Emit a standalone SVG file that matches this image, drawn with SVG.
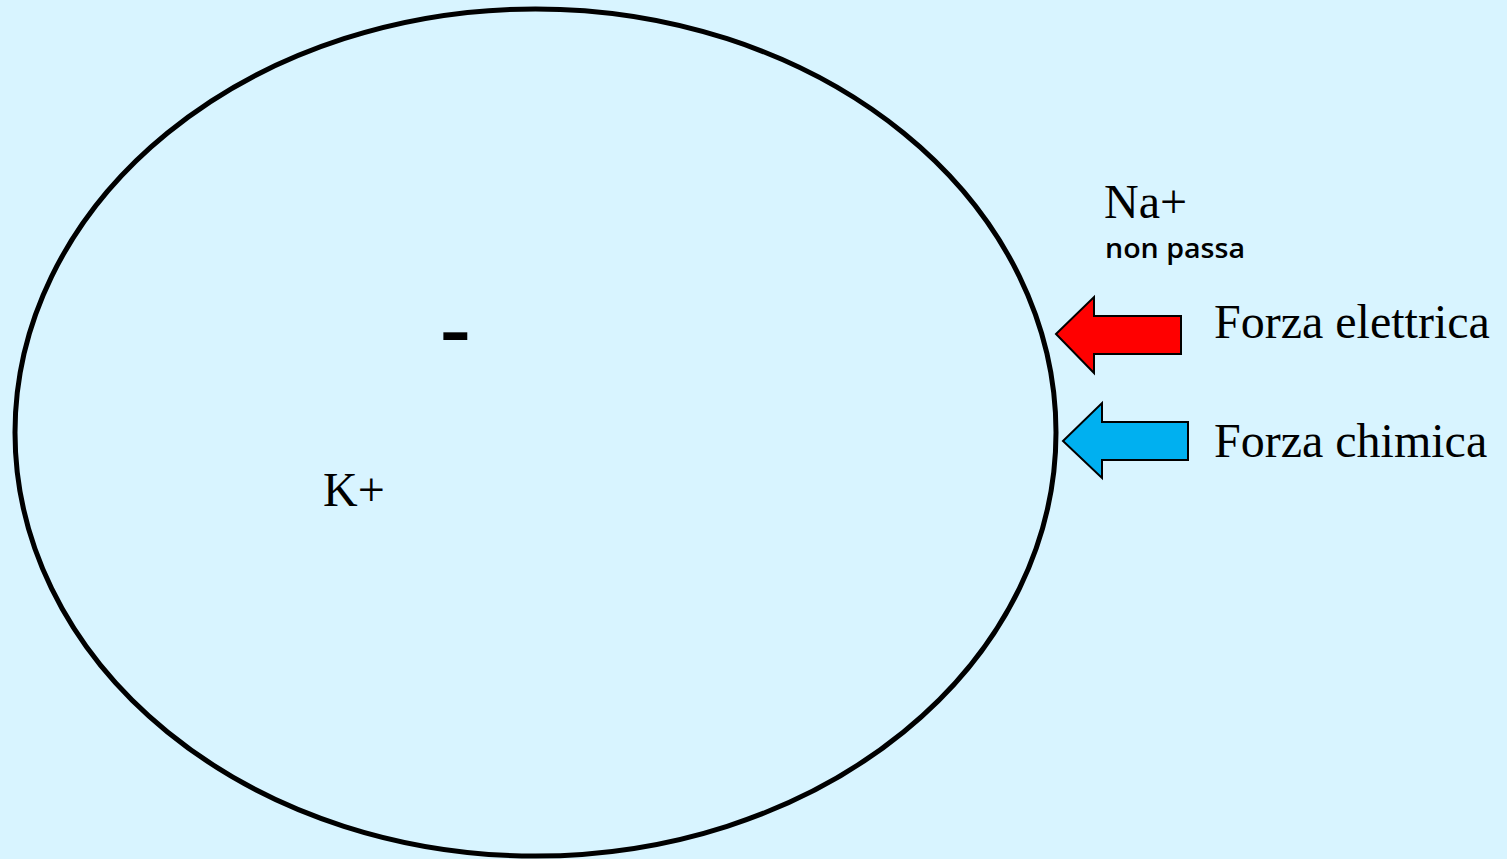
<svg xmlns="http://www.w3.org/2000/svg" width="1507" height="859" viewBox="0 0 1507 859">
  <style>
    .serif { font-family: "Liberation Serif", "Times New Roman", serif; font-size: 48px; fill: #000; }
    .hand { font-family: "Open Sans", "DejaVu Sans", sans-serif; font-size: 27px; font-weight: 600; fill: #000; }
    .arrow { stroke: #000; stroke-width: 2; stroke-linejoin: miter; }
  </style>
  <rect x="0" y="0" width="1507" height="859" fill="#D8F4FF"/>

  <!-- cell membrane -->
  <g id="cell">
    <ellipse cx="535.5" cy="432.5" rx="520.5" ry="423.5" fill="none" stroke="#000" stroke-width="5"/>
    <text class="serif" x="323" y="506">K+</text>
    <text x="439" y="362" font-family="Liberation Sans, Arial, sans-serif" font-size="98" fill="#000">-</text>
  </g>

  <g id="sodium">
    <text class="serif" x="1104" y="218">Na+</text>
    <text class="hand" x="1105" y="258" textLength="140" lengthAdjust="spacingAndGlyphs">non passa</text>
  </g>

  <!-- force arrows -->
  <g id="connectors">
    <g id="electric-force">
      <polygon class="arrow" fill="#FF0000" points="1056,334 1094,297 1094,316 1181,316 1181,354 1094,354 1094,373"/>
      <text class="serif" x="1214" y="338">Forza elettrica</text>
    </g>
    <g id="chemical-force">
      <polygon class="arrow" fill="#00B0F0" points="1063,441 1102,403 1102,422 1188,422 1188,460 1102,460 1102,478"/>
      <text class="serif" x="1214" y="457">Forza chimica</text>
    </g>
  </g>
</svg>
